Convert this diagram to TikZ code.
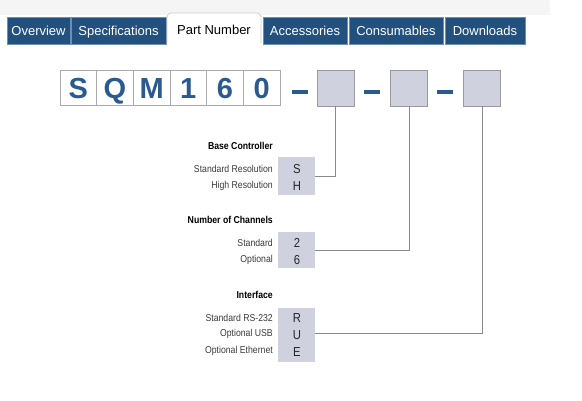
\documentclass[tikz,border=0pt]{standalone}
\usepackage{fontspec}
\setmainfont{Liberation Sans}
\newfontfamily\condfont[FakeStretch=0.87]{Liberation Sans}
\definecolor{tabblue}{HTML}{22507F}
\definecolor{tabedge}{HTML}{6F8DB0}
\definecolor{pnblue}{HTML}{2D5A8E}
\definecolor{optfill}{HTML}{CFD2DE}
\definecolor{optedge}{HTML}{9A9A9A}
\definecolor{lead}{HTML}{8A8A8A}
\definecolor{lbl}{HTML}{3A3A3A}
\begin{document}
\begin{tikzpicture}[x=1pt,y=-1pt,
  tabbox/.style={draw=tabedge,fill=tabblue,line width=0.6pt,text=white,minimum height=27pt,inner sep=0pt,text height=10.5pt,text depth=0.5pt,font=\fontsize{13}{13}\selectfont},
  pnbox/.style={draw=black!33,fill=white,line width=0.8pt,minimum width=36.7pt,minimum height=35pt,inner sep=0pt,text height=21pt,text depth=0pt,text=pnblue,font=\fontsize{29}{29}\selectfont\bfseries},
  optbox/.style={draw=optedge,fill=optfill,line width=0.9pt,minimum width=37pt,minimum height=36pt,inner sep=0pt},
  dashbar/.style={fill=pnblue,minimum width=16pt,minimum height=3.5pt,inner sep=0pt},
  codebox/.style={fill=optfill,minimum width=37pt,inner sep=0pt},
  code/.style={text=black!85,font=\condfont\fontsize{13}{13}\selectfont,inner sep=0pt},
  head/.style={anchor=east,inner sep=0pt,font=\condfont\fontsize{10}{10}\selectfont\bfseries},
  sub/.style={anchor=east,inner sep=0pt,text=lbl,font=\condfont\fontsize{10}{10}\selectfont},
  leader/.style={draw=lead,line width=0.8pt}]
\useasboundingbox (0,0) rectangle (582,400);
\fill[black!4] (0,0) rectangle (550,15);
% tabs
\node[tabbox,minimum width=63pt] (t1) at (38.5,30.5) {Overview};
\node[tabbox,minimum width=95pt] (t2) at (118.5,30.5) {Specifications};
\draw[fill=white,draw=black!20,line width=0.8pt,rounded corners=4pt] (167,44) -- (167,13) -- (261,13) -- (261,44);
\node[inner sep=0pt,text height=9.4pt,text depth=2.6pt,font=\fontsize{13}{13}\selectfont] (t3) at (214,31) {Part Number};
\node[tabbox,minimum width=84pt] (t4) at (305,30.5) {Accessories};
\node[tabbox,minimum width=94pt] (t5) at (396,30.5) {Consumables};
\node[tabbox,minimum width=80pt] (t6) at (485,30.5) {Downloads};
% part number boxes
\node[pnbox] (p1) at (78.3,87.5) {S};
\node[pnbox] (p2) at (115,87.5) {Q};
\node[pnbox] (p3) at (151.7,87.5) {M};
\node[pnbox] (p4) at (188.3,87.5) {1};
\node[pnbox] (p5) at (225,87.5) {6};
\node[pnbox] (p6) at (261.7,87.5) {0};
\node[dashbar] (d1) at (300,92) {};
\node[optbox] (b1) at (335.5,88) {};
\node[dashbar] (d2) at (371.5,92) {};
\node[optbox] (b2) at (409,88) {};
\node[dashbar] (d3) at (445,92) {};
\node[optbox] (b3) at (482,88) {};
% code boxes
\node[codebox,minimum height=38pt] (sh) at (296.5,176) {};
\node[codebox,minimum height=36pt] (ch) at (296.5,250) {};
\node[codebox,minimum height=54pt] (ifb) at (296.5,335) {};
\node[code] (cS) at (297,169) {S};
\node[code] (cH) at (297,186) {H};
\node[code] (c2) at (297,243) {2};
\node[code] (c6) at (297,260) {6};
\node[code] (cR) at (297,318) {R};
\node[code] (cU) at (297,335) {U};
\node[code] (cE) at (297,352) {E};
% labels
\node[head] (h1) at (273,146) {Base Controller};
\node[sub] (l1) at (273,169) {Standard Resolution};
\node[sub] (l2) at (273,186) {High Resolution};
\node[head] (h2) at (273,220) {Number of Channels};
\node[sub] (l3) at (273,243) {Standard};
\node[sub] (l4) at (273,260) {Optional};
\node[head] (h3) at (273,295) {Interface};
\node[sub] (l5) at (273,318) {Standard RS-232};
\node[sub] (l6) at (273,334) {Optional USB};
\node[sub] (l7) at (273,351) {Optional Ethernet};
% leaders
\draw[leader] (b1.south) |- (sh.east);
\draw[leader] (b2.south) |- (ch.east);
\draw[leader] (b3.south) |- ([yshift=2pt]ifb.east);
\end{tikzpicture}
\end{document}
